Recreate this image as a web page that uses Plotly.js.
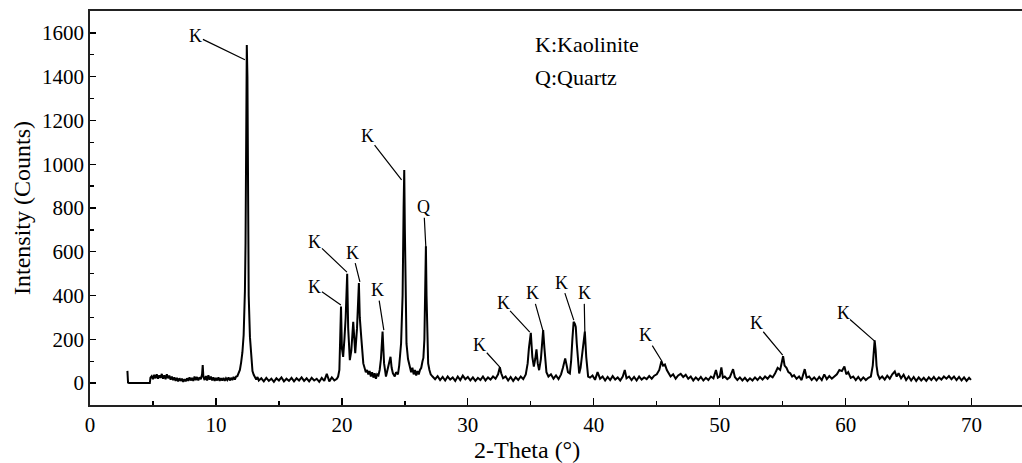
<!DOCTYPE html>
<html>
<head>
<meta charset="utf-8">
<script src="https://cdn.plot.ly/plotly-3.0.1.min.js"></script>
<style>html,body{margin:0;padding:0;background:#fff;}#chart{width:1022px;height:463px;}</style>
</head>
<body>
<div id="chart"></div>
<script>
// 2-Theta positions (degrees)
var twoTheta = [
2.97,3.02,3.1,4.75,4.8,4.9,5.0,5.1,5.2,5.3,5.4,5.5,5.6,5.7,5.8,5.9,6.0,6.1,6.2,6.3,6.4,6.5,6.6,6.7,
6.8,6.9,7.0,7.1,7.2,7.3,7.4,7.5,7.6,7.7,7.8,7.9,8.0,8.1,8.2,8.3,8.4,8.5,8.6,8.7,8.8,
8.9,8.95,9.0,9.1,9.2,9.3,9.4,9.5,9.6,9.7,9.8,9.9,10.0,10.1,10.2,10.3,10.4,10.5,10.6,10.7,10.8,10.9,11.0,11.1,11.2,11.3,11.4,11.5,11.6,11.7,11.8,11.9,12.0,12.1,12.2,12.3,12.35,12.4,12.45,12.5,12.55,12.6,12.7,12.8,12.9,13.0,13.1,13.2,13.3,13.4,
13.6,13.8,14.0,14.2,14.4,14.6,14.8,15.0,15.2,15.4,15.6,15.8,16.0,16.2,16.4,16.6,16.8,17.0,17.2,17.4,17.6,17.8,18.0,18.2,18.4,18.6,18.8,19.0,19.2,19.4,19.6,19.7,
19.8,19.85,19.93,20.0,20.1,20.2,20.3,20.42,20.5,20.63,20.75,20.9,21.0,21.06,21.2,21.35,21.42,21.48,21.55,21.7,21.8,21.9,22.0,22.1,22.2,22.3,22.4,22.5,22.6,22.7,22.8,22.9,23.0,23.1,23.23,23.35,23.5,23.6,23.75,23.86,23.95,24.05,24.2,24.3,24.45,24.55,24.7,24.82,24.9,24.95,25.0,25.05,25.13,25.25,25.4,25.5,25.6,25.7,25.8,25.9,26.0,26.1,26.2,26.3,26.4,26.47,26.55,26.62,26.67,26.72,26.78,26.85,26.95,27.05,27.2,
27.4,27.6,27.8,28.0,28.2,28.4,28.6,28.8,29.0,29.2,29.4,29.6,29.8,30.0,30.2,30.4,30.6,30.8,31.0,31.2,31.4,31.6,31.8,32.0,32.2,32.4,32.54,32.65,32.8,33.0,33.2,33.4,33.6,33.8,34.0,34.2,34.4,34.6,34.75,34.85,35.0,35.12,35.24,35.35,35.45,35.55,35.66,35.8,35.9,35.98,36.08,36.24,36.4,36.6,36.8,37.0,37.2,37.4,37.55,37.73,37.85,37.95,38.1,38.2,38.3,38.4,38.5,38.57,38.65,38.75,38.84,38.95,39.1,39.29,39.4,39.55,39.7,39.9,40.1,40.3,40.5,40.7,40.9,41.1,41.3,41.5,41.7,41.9,42.1,42.3,42.46,42.6,42.8,43.0,43.2,43.4,43.6,43.8,44.0,44.2,44.4,44.6,44.8,45.0,45.2,45.37,45.5,45.65,45.8,45.95,46.1,46.3,46.5,46.7,46.9,47.1,47.3,47.5,47.7,47.9,48.1,48.3,48.5,48.7,48.9,49.1,49.3,49.5,49.7,49.85,50.0,50.13,50.25,50.4,50.6,50.8,51.06,51.2,51.4,51.6,51.8,52.0,52.2,52.4,52.6,52.8,53.0,53.2,53.4,53.6,53.8,54.0,54.2,54.4,54.6,54.8,55.03,55.15,55.3,55.45,55.6,55.75,55.9,56.1,56.3,56.5,56.75,56.9,57.1,57.3,57.5,57.7,57.9,58.1,58.3,58.5,58.7,58.9,59.1,59.3,59.5,59.7,59.9,60.05,60.2,60.4,60.6,60.8,61.0,61.2,61.4,61.6,61.8,62.0,62.15,62.25,62.3,62.38,62.45,62.55,62.7,62.9,63.1,63.3,63.5,63.7,63.9,64.05,64.2,64.4,64.6,64.8,65.0,65.2,65.4,65.6,65.8,66.0,66.2,66.4,66.6,66.8,67.0,67.2,67.4,67.6,67.8,68.0,68.2,68.4,68.6,68.8,69.0,69.2,69.4,69.6,69.8,69.95
];
// Intensity (counts)
var counts = [
56,2,0,0,25,32,18,38,22,40,20,35,24,42,20,36,18,40,22,34,16,30,14,26,
10,24,8,22,10,20,6,18,8,22,10,26,12,24,10,30,14,28,12,26,18,
40,82,30,14,32,12,36,16,30,12,26,10,24,12,26,10,22,12,24,10,22,14,26,12,24,14,28,16,30,32,45,60,95,140,220,420,640,1150,1545,1400,640,400,210,100,55,38,28,16,28,12,
22,8,24,10,20,6,22,12,26,8,20,10,24,8,22,12,26,10,22,8,24,12,20,6,24,10,42,8,26,12,20,30,
60,150,350,160,120,200,300,500,250,105,150,280,160,137,250,457,300,242,200,90,70,50,60,40,55,30,50,25,45,20,40,35,60,110,235,90,30,55,80,120,70,45,30,50,40,80,182,400,800,974,700,400,180,110,80,50,70,40,60,35,55,40,60,70,100,115,200,500,625,400,150,90,60,40,30,
18,32,14,28,12,30,16,26,10,30,14,34,18,28,12,26,10,24,14,30,12,26,16,30,20,40,72,45,22,30,12,28,10,26,14,30,18,40,90,160,230,120,75,110,154,90,59,110,190,242,160,50,30,40,20,35,18,40,70,113,80,50,44,100,200,280,270,257,180,80,44,70,140,235,120,30,25,35,15,50,20,30,12,28,14,32,16,26,12,30,60,22,30,14,28,12,30,16,26,18,32,20,34,40,60,100,80,85,60,45,30,40,20,35,42,28,38,20,30,12,26,14,28,12,24,14,30,22,60,25,30,72,25,30,18,26,64,28,14,26,12,24,10,22,12,26,14,28,16,30,20,34,26,45,70,60,123,80,70,50,45,30,36,20,30,14,64,25,30,14,26,12,28,14,40,18,32,20,30,40,60,55,76,40,50,24,30,14,28,12,26,14,24,30,80,150,195,150,80,40,20,30,16,34,20,40,53,30,45,22,38,14,30,12,28,10,26,12,24,10,26,14,28,12,26,16,30,20,32,18,30,14,28,12,26,10,24,15
];
// Peak labels
var peakLabels = ["K","K","Q","K","K","K","K","K","K","K","K","K","K","K","K"];
var peakX = [12.3,24.74,26.67,20.4,19.92,21.43,23.33,32.54,34.92,35.95,38.41,39.29,45.4,55.0,62.3];
var peakY = [1477,928,617,507,357,462,242,73,233,242,288,233,101,128,192];

var labelPos = [[8.41,1586],[22.04,1129],[26.5,803],[17.86,646],[17.86,440],[20.85,596],[22.83,425],[30.95,174],[32.8,364],[35.13,410],[37.43,459],[39.23,410],[44.13,219],[52.9,273],[59.79,319]];

var serif = "Liberation Serif, Times New Roman, serif";
var annotations = [];
for (var i = 0; i < peakLabels.length; i++) {
  annotations.push({
    x: peakX[i], y: peakY[i], xref: "x", yref: "y",
    ax: labelPos[i][0], ay: labelPos[i][1], axref: "x", ayref: "y",
    text: peakLabels[i], showarrow: true, arrowhead: 0, arrowwidth: 1.2, arrowcolor: "#000",
    font: {family: serif, size: 18, color: "#000"}, borderpad: 0, standoff: 0
  });
}
annotations.push({x: 35.16, y: 1545, xref: "x", yref: "y", xanchor: "left", yanchor: "middle", text: "K:Kaolinite", showarrow: false, font: {family: serif, size: 22, color: "#000"}});
annotations.push({x: 35.16, y: 1394, xref: "x", yref: "y", xanchor: "left", yanchor: "middle", text: "Q:Quartz", showarrow: false, font: {family: serif, size: 22, color: "#000"}});
annotations.push({x: 34.7, y: 0, xref: "x", yref: "paper", xanchor: "center", yanchor: "middle", yshift: -45, text: "2-Theta (°)", showarrow: false, font: {family: serif, size: 24, color: "#000"}});
annotations.push({x: 0, y: 0.5, xref: "paper", yref: "paper", xanchor: "center", yanchor: "middle", xshift: -68, textangle: -90, text: "Intensity (Counts)", showarrow: false, font: {family: serif, size: 24, color: "#000"}});

var trace = {
  x: twoTheta, y: counts, type: "scatter", mode: "lines",
  line: {color: "#000", width: 2}, hoverinfo: "x+y"
};

var layout = {
  width: 1022, height: 463,
  margin: {l: 90, r: 0, t: 11, b: 58},
  paper_bgcolor: "#fff", plot_bgcolor: "#fff",
  showlegend: false,
  font: {family: serif, color: "#000"},
  xaxis: {
    range: [0, 74], dtick: 10, tick0: 0, ticks: "inside", ticklen: 7, tickwidth: 1.3, tickcolor: "#000",
    minor: {dtick: 5, ticks: "inside", ticklen: 4, tickwidth: 1.3, tickcolor: "#000", showgrid: false},
    showline: true, linecolor: "#222", linewidth: 1.8, mirror: true,
    showgrid: false, zeroline: false,
    tickfont: {family: serif, size: 21, color: "#000"}
  },
  yaxis: {
    range: [-100, 1700], dtick: 200, tick0: 0, ticks: "inside", ticklen: 6, tickwidth: 1.3, tickcolor: "#000",
    minor: {dtick: 100, ticks: "inside", ticklen: 4, tickwidth: 1.3, tickcolor: "#000", showgrid: false},
    showline: true, linecolor: "#222", linewidth: 1.8, mirror: false,
    showgrid: false, zeroline: false,
    tickfont: {family: serif, size: 21, color: "#000"}
  },
  annotations: annotations
};

Plotly.newPlot("chart", [trace], layout, {displayModeBar: false, staticPlot: true});
</script>
</body>
</html>
